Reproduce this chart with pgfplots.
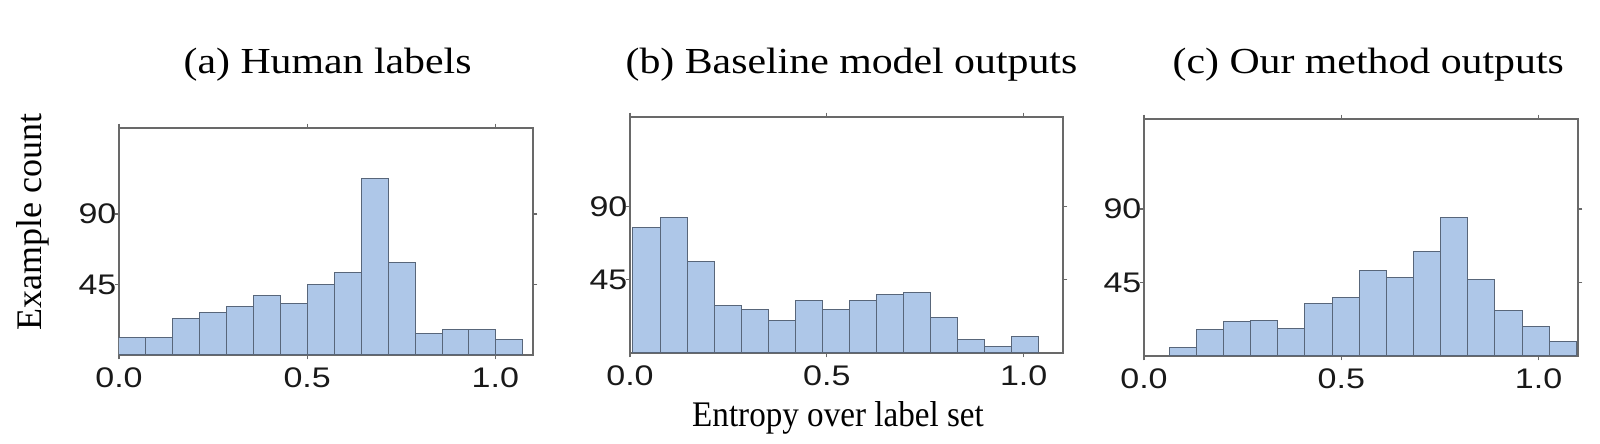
\documentclass[border=0pt]{standalone}
\usepackage{pgfplots}
\pgfplotsset{compat=1.18}
\usepackage{fontspec}
\setmainfont{Liberation Serif}
\newfontfamily\titlefont[FakeStretch=1.14]{Liberation Serif}
\newfontfamily\labelfont[FakeStretch=0.92]{Liberation Serif}
\newfontfamily\tickfont[FakeStretch=1.2]{Liberation Sans}

\definecolor{barfill}{RGB}{174,199,232}
\definecolor{baredge}{RGB}{88,102,122}
\definecolor{spine}{RGB}{105,105,105}

\pgfplotsset{
  histo/.style={
    scale only axis,
    anchor=south west,
    xmin=0, xmax=1.1,
    ymin=0, ymax=145,
    xtick={0,0.5,1},
    xticklabels={0.0,0.5,1.0},
    ytick={45,90},
    yticklabels={45,90},
    tick align=outside,
    major tick length=1.3pt,
    every tick/.style={spine, line width=0.4pt},
    axis line style={spine, line width=0.45pt},
    tick label style={font=\tickfont\fontsize{8.5}{9}\selectfont, text=black!90},
    xticklabel style={inner sep=1pt, yshift=-1.2pt},
    yticklabel style={inner sep=0.5pt, xshift=1.2pt},
    /pgf/number format/assume math mode=true,
  },
  hbar/.style={ybar interval, fill=barfill, draw=baredge, line width=0.3pt},
}

\begin{document}
\begin{tikzpicture}
\path[use as bounding box] (0,0) rectangle (480pt,133.2pt);

% (a) human labels
\begin{axis}[histo, at={(35.7pt,26.7pt)}, width=124.2pt, height=68.1pt]
\addplot[hbar] coordinates {
(0.0000,11) (0.0715,11) (0.1431,23) (0.2146,27) (0.2861,31)
(0.3577,38) (0.4292,33) (0.5007,45) (0.5723,53) (0.6438,113)
(0.7153,59) (0.7869,14) (0.8584,16) (0.9299,16) (1.0015,10)
(1.0730,10)};
\end{axis}

% (b) baseline
\begin{axis}[histo, at={(189pt,27.3pt)}, width=129.9pt, height=70.8pt]
\addplot[hbar] coordinates {
(0.0076,77) (0.0762,83) (0.1448,56) (0.2134,29) (0.2820,27)
(0.3506,20) (0.4192,32) (0.4878,27) (0.5564,32) (0.6250,36)
(0.6936,37) (0.7622,22) (0.8308,8) (0.8994,4) (0.9680,10)
(1.0366,10)};
\end{axis}

% (c) our method
\begin{axis}[histo, at={(343.2pt,26.4pt)}, width=130.2pt, height=71.1pt]
\addplot[hbar] coordinates {
(0.0638,5) (0.1326,16) (0.2014,21) (0.2702,22) (0.3390,17)
(0.4078,32) (0.4766,36) (0.5454,52) (0.6142,48) (0.6830,64)
(0.7518,85) (0.8206,47) (0.8894,28) (0.9582,18) (1.0270,9)
(1.0958,9)};
\end{axis}

\node[anchor=base west, inner sep=0pt, font=\titlefont\fontsize{11}{13}\selectfont] at (54.9pt,111pt) {(a) Human labels};
\node[anchor=base west, inner sep=0pt, font=\titlefont\fontsize{11}{13}\selectfont] at (187.5pt,111pt) {(b) Baseline model outputs};
\node[anchor=base west, inner sep=0pt, font=\titlefont\fontsize{11}{13}\selectfont] at (351.6pt,111pt) {(c) Our method outputs};

\node[rotate=90, inner sep=0pt, font=\fontsize{10.8}{12}\selectfont] at (9.9pt,66.6pt) {Example count};
\node[anchor=base, inner sep=0pt, font=\labelfont\fontsize{10.8}{12}\selectfont] at (251.4pt,5.1pt) {Entropy over label set};
\end{tikzpicture}
\end{document}
